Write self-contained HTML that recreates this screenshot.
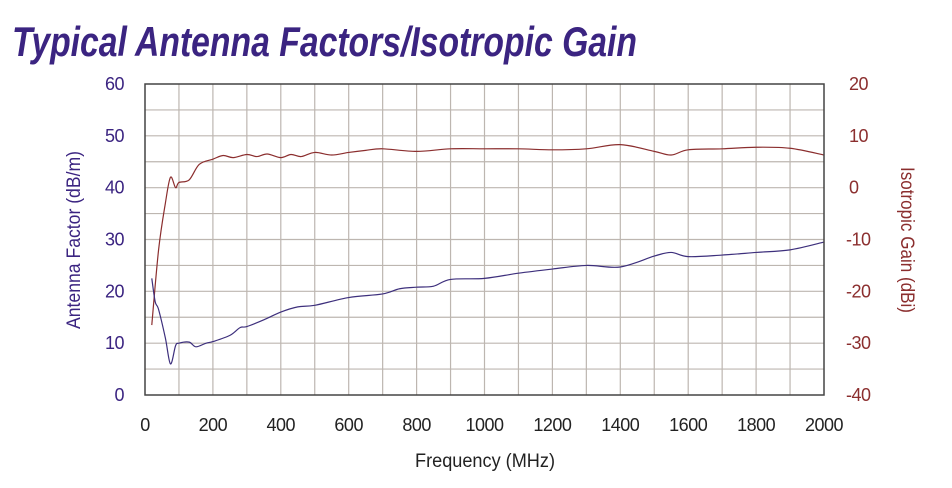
<!DOCTYPE html>
<html><head><meta charset="utf-8"><style>
body{margin:0;background:#fff}
svg{display:block;font-family:"Liberation Sans",sans-serif}
</style></head><body>
<svg id="chart" width="952" height="488" viewBox="0 0 952 488" xmlns="http://www.w3.org/2000/svg">
<text x="12" y="56" font-size="42" font-weight="bold" font-style="italic" fill="#3b2481" textLength="625" lengthAdjust="spacingAndGlyphs">Typical Antenna Factors/Isotropic Gain</text>
<g id="grid"></g>
<g id="ticks"></g>
<path id="gainLine" fill="none" stroke="#8b2e2e" stroke-width="1.2"/>
<path id="afLine" fill="none" stroke="#3d2f7c" stroke-width="1.2"/>
<rect x="145" y="84" width="679" height="311" fill="none" stroke="#444" stroke-width="1.5"/>
<text x="485" y="467" font-size="19" fill="#222" text-anchor="middle" textLength="140" lengthAdjust="spacingAndGlyphs">Frequency (MHz)</text>
<text transform="translate(80,240) rotate(-90)" font-size="19" fill="#3b2481" text-anchor="middle" textLength="178" lengthAdjust="spacingAndGlyphs">Antenna Factor (dB/m)</text>
<text transform="translate(901,240) rotate(90)" font-size="19" fill="#8b2e2e" text-anchor="middle" textLength="146" lengthAdjust="spacingAndGlyphs">Isotropic Gain (dBi)</text>
</svg>
<script>
const freqTicks=[0,200,400,600,800,1000,1200,1400,1600,1800,2000];
const afTicks=[0,10,20,30,40,50,60];
const gainTicks=[-40,-30,-20,-10,0,10,20];
const afFreq=[20,30,40,60,75,90,100,130,150,180,200,250,280,300,350,400,450,500,600,700,750,800,850,900,1000,1100,1200,1300,1400,1500,1550,1600,1700,1800,1900,2000];
const afVals=[22.5,18,16.5,11,6,9.5,10,10.2,9.3,10,10.3,11.5,13,13.2,14.5,16,17,17.3,18.8,19.5,20.5,20.8,21,22.3,22.5,23.5,24.3,25,24.7,26.8,27.5,26.7,27,27.5,28,29.5];
const gainFreq=[20,40,60,75,90,100,130,160,200,230,260,300,330,360,400,430,460,500,550,600,650,700,800,900,1000,1100,1200,1300,1400,1500,1550,1600,1700,1800,1900,2000];
const gainVals=[-26.5,-12,-3,2,0,1,1.5,4.5,5.5,6.2,5.8,6.4,6,6.5,5.8,6.4,6,6.8,6.3,6.8,7.2,7.5,7,7.5,7.5,7.5,7.3,7.5,8.3,7,6.3,7.3,7.5,7.8,7.6,6.3];
const L=145,R=824,T=84,B=395;
const x=f=>L+f/2000*(R-L);
const yA=v=>B-v/60*(B-T);
const yG=v=>B-(v+40)/60*(B-T);
const NS="http://www.w3.org/2000/svg";
const grid=document.getElementById('grid'),ticks=document.getElementById('ticks');
function mk(tag,attrs,parent){const e=document.createElementNS(NS,tag);for(const k in attrs)e.setAttribute(k,attrs[k]);parent.appendChild(e);return e;}
for(let f=100;f<2000;f+=100){const l=mk('line',{x1:x(f),x2:x(f),y1:T,y2:B,stroke:'#bdb6b0','stroke-width':1.2},grid);

}
for(let v=5;v<60;v+=5){const l=mk('line',{x1:L,x2:R,y1:yA(v),y2:yA(v),stroke:'#bdb6b0','stroke-width':1.2},grid);

}
freqTicks.forEach(f=>{const t=mk('text',{x:x(f),y:431,'font-size':18,fill:'#222','text-anchor':'middle','transform':'','letter-spacing':'-0.5'},ticks);t.textContent=f;

});
afTicks.forEach(v=>{const t=mk('text',{x:124,y:yA(v)+6,'font-size':18,fill:'#3b2481','text-anchor':'end','letter-spacing':'-0.5'},ticks);t.textContent=v;

});
gainTicks.forEach(v=>{const t=mk('text',{x:v<0?846:849,y:yG(v)+6,'font-size':18,fill:'#8b2e2e','text-anchor':'start','letter-spacing':'-0.5'},ticks);t.textContent=v;

});
function smooth(pts){let d='M'+pts[0][0]+','+pts[0][1];for(let i=0;i<pts.length-1;i++){const p0=pts[i-1]||pts[i],p1=pts[i],p2=pts[i+1],p3=pts[i+2]||p2;
const c1=[p1[0]+(p2[0]-p0[0])/6,p1[1]+(p2[1]-p0[1])/6],c2=[p2[0]-(p3[0]-p1[0])/6,p2[1]-(p3[1]-p1[1])/6];
d+=' C'+c1+' '+c2+' '+p2;}return d;}
document.getElementById('afLine').setAttribute('d',smooth(afFreq.map((f,i)=>[x(f),yA(afVals[i])])));
document.getElementById('gainLine').setAttribute('d',smooth(gainFreq.map((f,i)=>[x(f),yG(gainVals[i])])));
</script>
</body></html>
